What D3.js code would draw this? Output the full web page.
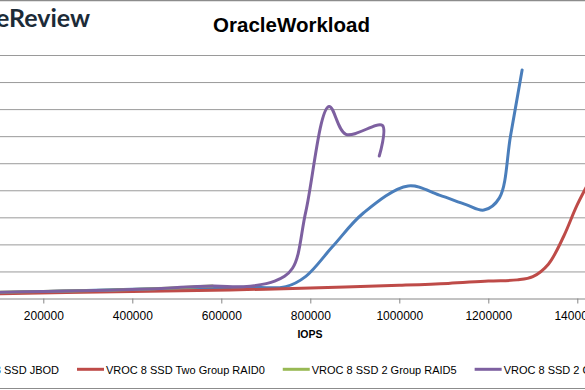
<!DOCTYPE html>
<html><head><meta charset="utf-8">
<script src="https://cdn.jsdelivr.net/npm/d3@7"></script>
<style>body{margin:0;background:#fff}svg{display:block}</style>
</head><body><svg id="c" width="585" height="390"></svg>
<script>
const chartTitle = "OracleWorkload";
const xTitle = "IOPS";
const logoText = "StorageReview";
const xTicks = [200000, 400000, 600000, 800000, 1000000, 1200000, 1400000];
const yTicks = [0, 1, 2, 3, 4, 5, 6, 7, 8, 9];
const seriesNames = ["VROC 8 SSD JBOD", "VROC 8 SSD Two Group RAID0", "VROC 8 SSD 2 Group RAID5", "VROC 8 SSD 2 Group RAID10"];
const seriesColors = ["#4a7ebb", "#be4b48", "#98b954", "#7d60a0"];

// [IOPS, latency] points
const jbod = [[60000,0.17],[400000,0.32],[650000,0.40],[745000,0.42],[790000,0.8],[850000,1.9],[920000,3.15],[1020000,4.14],[1090000,3.8],[1150000,3.45],[1190000,3.25],[1225000,3.7],[1250000,6.0],[1276000,8.43]];
const raid0 = [[60000,0.15],[400000,0.24],[620000,0.30],[780000,0.36],[1000000,0.47],[1110000,0.54],[1200000,0.63],[1265000,0.67],[1300000,0.79],[1335000,1.25],[1370000,2.3],[1400000,3.45],[1450000,5.0]];
const raid5 = [[60000,0.20],[400000,0.31],[580000,0.44]];
const raid10 = [[60000,0.20],[400000,0.31],[580000,0.44],[650000,0.42],[720000,0.62],[760000,1.1],[790000,3.2],[842000,7.08],[880000,6.05],[962000,6.38],[955000,5.25]];
const seriesData = [jbod, raid0, raid5, raid10];

const svg = d3.select("#c");
const font = "'Liberation Sans', Arial, sans-serif";

// frame lines
svg.append("line").attr("x1",0).attr("x2",585).attr("y1",0.5).attr("y2",0.5).attr("stroke","#8c8c8c").attr("stroke-width",1.5);
svg.append("line").attr("x1",0).attr("x2",585).attr("y1",388.5).attr("y2",388.5).attr("stroke","#8c8c8c");

const x0 = -45.7, pxPer = 89 / 200000;
const x = d3.scaleLinear().domain([0, 1600000]).range([x0, x0 + 1600000 * pxPer]);
const y = d3.scaleLinear().domain([0, 9]).range([298, 54.5]);

// gridlines
const grid = svg.append("g").attr("transform", `translate(${x0},0)`)
  .call(d3.axisLeft(y).tickValues(yTicks.slice(1)).tickSize(-(x.range()[1]-x0)).tickFormat(""));
grid.select(".domain").remove();
grid.selectAll("line").attr("stroke", "#9a9a9a").attr("transform","translate(0,0.5)");

// x axis
const xa = svg.append("g").attr("transform", "translate(0,298.5)")
  .call(d3.axisBottom(x).tickValues(xTicks).tickSize(5).tickPadding(8).tickSizeOuter(0).tickFormat(d3.format("d")));
xa.select(".domain").attr("stroke", "#868686");
xa.selectAll(".tick line").attr("stroke", "#868686");
xa.selectAll("text").attr("font-family", font).attr("font-size", 12).attr("fill", "#000");

// lines
const line = d3.line().x(d => x(d[0])).y(d => y(d[1])).curve(d3.curveCatmullRom.alpha(0.5));
seriesData.forEach((s, i) => {
  svg.append("path").datum(s).attr("d", line).attr("fill", "none")
    .attr("stroke", seriesColors[i]).attr("stroke-width", 3).attr("stroke-linejoin","round").attr("stroke-linecap","round");
});

// title
svg.append("text").attr("x", 291.5).attr("y", 31.7).attr("text-anchor", "middle")
  .attr("font-family", font).attr("font-weight", "bold").attr("font-size", 20.5).attr("fill", "#000").text(chartTitle);

// logo
svg.append("text").attr("x", 90).attr("y", 26.5).attr("text-anchor", "end")
  .attr("font-family", "Lato, 'Open Sans', sans-serif").attr("font-weight", 700).attr("font-size", 25)
  .attr("fill", "#1c2b38").text(logoText);

// x title
svg.append("text").attr("x", 310).attr("y", 338.3).attr("text-anchor", "middle")
  .attr("font-family", font).attr("font-weight", "bold").attr("font-size", 10.5).attr("fill", "#000").text(xTitle);

// legend
const leg = svg.append("g");
const items = seriesNames.map((n, i) => {
  const g = leg.append("g");
  g.append("line").attr("x1", 0).attr("x2", 27).attr("y1", 369.3).attr("y2", 369.3)
    .attr("stroke", seriesColors[i]).attr("stroke-width", 3);
  const t = g.append("text").attr("x", 29).attr("y", 374.3).attr("font-family", font)
    .attr("font-size", 11).attr("fill", "#000").text(n);
  return {g, w: 29 + t.node().getComputedTextLength()};
});
const gap = 18;
let startX = 77 - gap - items[0].w;
items.forEach(it => { it.g.attr("transform", `translate(${startX},0)`); startX += it.w + gap; });
</script></body></html>
